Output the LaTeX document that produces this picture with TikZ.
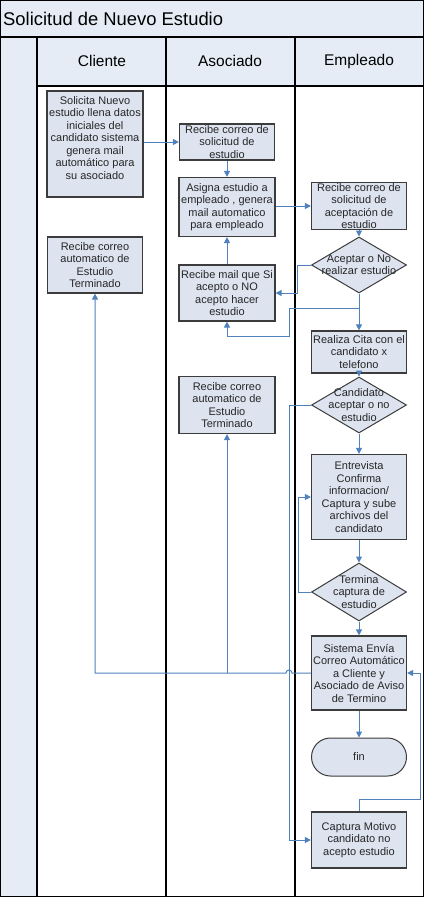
\documentclass[tikz,border=0pt]{standalone}
\usepackage{fontspec}
\setmainfont{Liberation Sans}
\usetikzlibrary{arrows.meta,shapes.geometric}
\definecolor{bgfill}{RGB}{230,236,246}
\definecolor{boxfill}{RGB}{221,228,240}
\definecolor{boxline}{RGB}{60,60,60}
\definecolor{arrcol}{RGB}{79,129,189}
\tikzset{
  txt/.style={font=\fontsize{11}{12.5}\selectfont, align=center, inner sep=0pt, text=black!85},
  box/.style={rectangle, draw=boxline, fill=boxfill, line width=1.2pt, inner sep=0pt},
  dia/.style={diamond, draw=boxline, fill=boxfill, line width=1pt, inner sep=0pt, minimum width=95pt, minimum height=56pt},
  term/.style={rectangle, rounded corners=19pt, draw=boxline, fill=boxfill, line width=1pt, inner sep=0pt, minimum width=95pt, minimum height=38pt},
  arr/.style={draw=arrcol, line width=1pt, -{Triangle[length=6pt,width=6pt]}},
  con/.style={draw=arrcol, line width=1pt},
  lane/.style={draw=black, line width=1.2pt},
  hdr/.style={font=\fontsize{15.5}{18}\selectfont, inner sep=0pt}
}
\begin{document}
\begin{tikzpicture}[x=1pt,y=-1pt]
\useasboundingbox (0,0) rectangle (424,897);
% backgrounds
\fill[bgfill] (0,0) rectangle (424,37);
\fill[bgfill] (0,37) rectangle (37,897);
\fill[bgfill] (37,37) rectangle (424,86);
% lines
\draw[lane] (37,37) -- (37,897);
\draw[lane] (166,37) -- (166,897);
\draw[lane] (295,37) -- (295,897);
\draw[lane] (37,86) -- (424,86);
\draw[black, line width=2pt] (0,37) -- (424,37);
\draw[lane] (0.6,0.6) rectangle (423.4,896.4);
% title and headers
\node[font=\fontsize{18.4}{22}\selectfont, anchor=west, inner sep=0pt] (title) at (3,19) {Solicitud de Nuevo Estudio};
\node[hdr] (hc) at (102,61) {Cliente};
\node[hdr] (ha) at (230,61) {Asociado};
\node[hdr] (he) at (359,61) {Empleado};
% nodes
\node[box, minimum width=96pt, minimum height=106pt, label={[txt, yshift=6pt]center:{Solicita Nuevo\\estudio llena datos\\iniciales del\\candidato sistema\\genera mail\\automático para\\su asociado}}] (n1) at (95,144) {};
\node[box, minimum width=95pt, minimum height=36pt, label={[txt]center:{Recibe correo de\\solicitud de\\estudio}}] (n2) at (227,142) {};
\node[box, minimum width=96pt, minimum height=59pt, label={[txt]center:{Asigna estudio a\\empleado , genera\\mail automatico\\para empleado}}] (n3) at (227,207) {};
\node[box, minimum width=95pt, minimum height=47pt, label={[txt]center:{Recibe correo de\\solicitud de\\aceptación de\\estudio}}] (n4) at (359,206) {};
\node[dia, label={[txt]center:{Aceptar o No\\realizar estudio}}] (n5) at (359,265) {};
\node[box, minimum width=95pt, minimum height=56pt, label={[txt]center:{Recibe correo\\automatico de\\Estudio\\Terminado}}] (n6) at (95,265) {};
\node[box, minimum width=96pt, minimum height=56pt, label={[txt]center:{Recibe mail que Si\\acepto o NO\\acepto hacer\\estudio}}] (n7) at (227,293) {};
\node[box, minimum width=95pt, minimum height=42pt, label={[txt]center:{Realiza Cita con el\\candidato x\\telefono}}] (n8) at (359,352) {};
\node[dia, label={[txt]center:{Candidato\\aceptar o no\\estudio}}] (n9) at (359,405) {};
\node[box, minimum width=96pt, minimum height=57pt, label={[txt]center:{Recibe correo\\automatico de\\Estudio\\Terminado}}] (n10) at (227,405) {};
\node[box, minimum width=95pt, minimum height=85pt, label={[txt]center:{Entrevista\\Confirma\\informacion/\\Captura y sube\\archivos del\\candidato}}] (n11) at (359,497) {};
\node[dia, minimum height=58pt, label={[txt]center:{Termina\\captura de\\estudio}}] (n12) at (359,592) {};
\node[box, minimum width=95pt, minimum height=74pt, label={[txt]center:{Sistema Envía\\Correo Automático\\a Cliente y\\Asociado de Aviso\\de Termino}}] (n13) at (359,673) {};
\node[term, label={[txt]center:{fin}}] (n14) at (359,757) {};
\node[box, minimum width=95pt, minimum height=56pt, label={[txt]center:{Captura Motivo\\candidato no\\acepto estudio}}] (n15) at (359,840) {};
% helper coordinates
\coordinate (a1) at (297,265);
\coordinate (b1) at (289,308);
\coordinate (b2) at (289,336);
\coordinate (c1) at (289,405);
\coordinate (d1) at (298,592);
\coordinate (h1) at (292,673);
\coordinate (j1) at (227,673);
\coordinate (r1) at (420,799);
% connectors
\draw[arr] (n1.east |- n2.west) -- (n2.west);
\draw[arr] (n2) -- (n3);
\draw[arr] (n3.east |- n4.west) -- (n4.west);
\draw[arr] (n4) -- (n5);
\draw[arr] (n5.west) -- (a1) |- (n7.east);
\draw[arr] (n7) -- (n3);
\draw[arr] (n5) -- (n8);
\draw[arr] (n5.south) |- (b1) -- (b2) -| (n7.south);
\draw[arr] (n8) -- (n9);
\draw[arr] (n9) -- (n11);
\draw[arr] (n9.west) -- (c1) |- (n15.west);
\draw[arr] (n11) -- (n12);
\draw[arr] (n12.west) -- (d1) |- (n11.west);
\draw[arr] (n12) -- (n13);
\draw[arr] (n13.west) -- (h1) arc (0:-180:3) -| (n6.south);
\draw[arr] (j1) -- (n10.south);
\draw[arr] (n13) -- (n14);
\draw[arr] (n15.north) |- (r1) |- (n13.east);
\end{tikzpicture}
\end{document}
